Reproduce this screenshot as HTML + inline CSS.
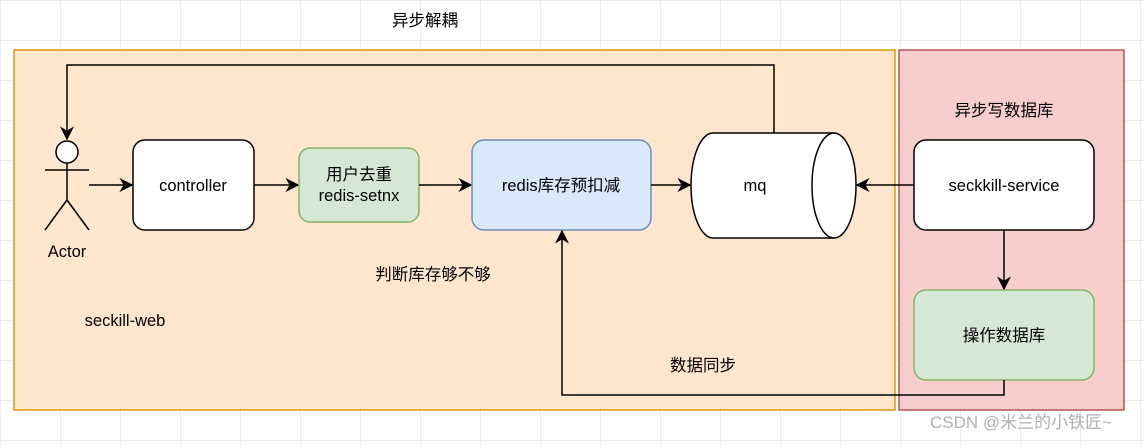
<!DOCTYPE html>
<html><head><meta charset="utf-8"><style>
body{margin:0;width:1144px;height:441px;overflow:hidden;background:#fff;
background-image:linear-gradient(#ececec 1px,transparent 1px),linear-gradient(90deg,#ececec 1px,transparent 1px);background-size:60px 40px;}
text{font-family:"Liberation Sans","Noto Sans CJK SC",sans-serif;font-size:16.5px;fill:#000}
</style></head><body>
<svg width="1144" height="441" xmlns="http://www.w3.org/2000/svg">
<defs>
<marker id="b" viewBox="0 0 10 10" refX="9" refY="5" markerWidth="14" markerHeight="14" orient="auto" markerUnits="userSpaceOnUse"><path d="M0,0 L10,5 L0,10 L3,5z" fill="#000"/></marker></defs>
<rect x="14" y="50" width="881" height="360" fill="#ffe6cc" stroke="#d79b00" stroke-width="1.5"/>
<rect x="899" y="50" width="225" height="360" fill="#f8cecc" stroke="#b85450" stroke-width="1.5"/>
<text x="425" y="26" text-anchor="middle">异步解耦</text>
<text x="1004" y="116" text-anchor="middle">异步写数据库</text>
<text x="433" y="280" text-anchor="middle">判断库存够不够</text>
<text x="125" y="326" text-anchor="middle">seckill-web</text>
<text x="703" y="371" text-anchor="middle">数据同步</text>
<path d="M774,133 V65 H67 V139" fill="none" stroke="#000" stroke-width="1.5" marker-end="url(#b)"/>
<circle cx="67" cy="152" r="11" fill="#fff" stroke="#000" stroke-width="1.5"/>
<path d="M67,163 V200 M45,170 H89 M67,200 L45,230 M67,200 L89,230" stroke="#000" stroke-width="1.5" fill="none"/>
<text x="67" y="257" text-anchor="middle">Actor</text>
<line x1="89" y1="185" x2="132" y2="185" stroke="#000" stroke-width="1.5" marker-end="url(#b)"/>
<rect x="133" y="140" width="121" height="90" rx="12" fill="#fff" stroke="#000" stroke-width="1.5"/>
<text x="193" y="191" text-anchor="middle">controller</text>
<line x1="254" y1="185" x2="298" y2="185" stroke="#000" stroke-width="1.5" marker-end="url(#b)"/>
<rect x="299" y="148" width="120" height="74" rx="11" fill="#d5e8d4" stroke="#82b366" stroke-width="1.5"/>
<text x="359" y="180" text-anchor="middle">用户去重</text>
<text x="359" y="201" text-anchor="middle">redis-setnx</text>
<line x1="419" y1="185" x2="471" y2="185" stroke="#000" stroke-width="1.5" marker-end="url(#b)"/>
<rect x="472" y="140" width="179" height="90" rx="12" fill="#dae8fc" stroke="#6c8ebf" stroke-width="1.5"/>
<text x="561" y="191" text-anchor="middle">redis库存预扣减</text>
<line x1="651" y1="185" x2="690" y2="185" stroke="#000" stroke-width="1.5" marker-end="url(#b)"/>
<path d="M834,133 H713 A22,52.5 0 0 0 713,238 H834" fill="#fff" stroke="#000" stroke-width="1.5"/>
<ellipse cx="834" cy="185.5" rx="22" ry="52.5" fill="#fff" stroke="#000" stroke-width="1.5"/>
<text x="755" y="191" text-anchor="middle">mq</text>
<line x1="914" y1="185" x2="857" y2="185" stroke="#000" stroke-width="1.5" marker-end="url(#b)"/>
<rect x="914" y="140" width="180" height="90" rx="12" fill="#fff" stroke="#000" stroke-width="1.5"/>
<text x="1004" y="191" text-anchor="middle">seckkill-service</text>
<line x1="1004" y1="230" x2="1004" y2="289" stroke="#000" stroke-width="1.5" marker-end="url(#b)"/>
<rect x="914" y="290" width="180" height="90" rx="12" fill="#d5e8d4" stroke="#82b366" stroke-width="1.5"/>
<text x="1004" y="341" text-anchor="middle">操作数据库</text>
<path d="M1004,380 V395 H562 V231" fill="none" stroke="#000" stroke-width="1.5" marker-end="url(#b)"/>
<text x="1021" y="428" text-anchor="middle" style="fill:#b0b0b0;font-size:17px">CSDN @米兰的小铁匠~</text>
</svg>
</body></html>
